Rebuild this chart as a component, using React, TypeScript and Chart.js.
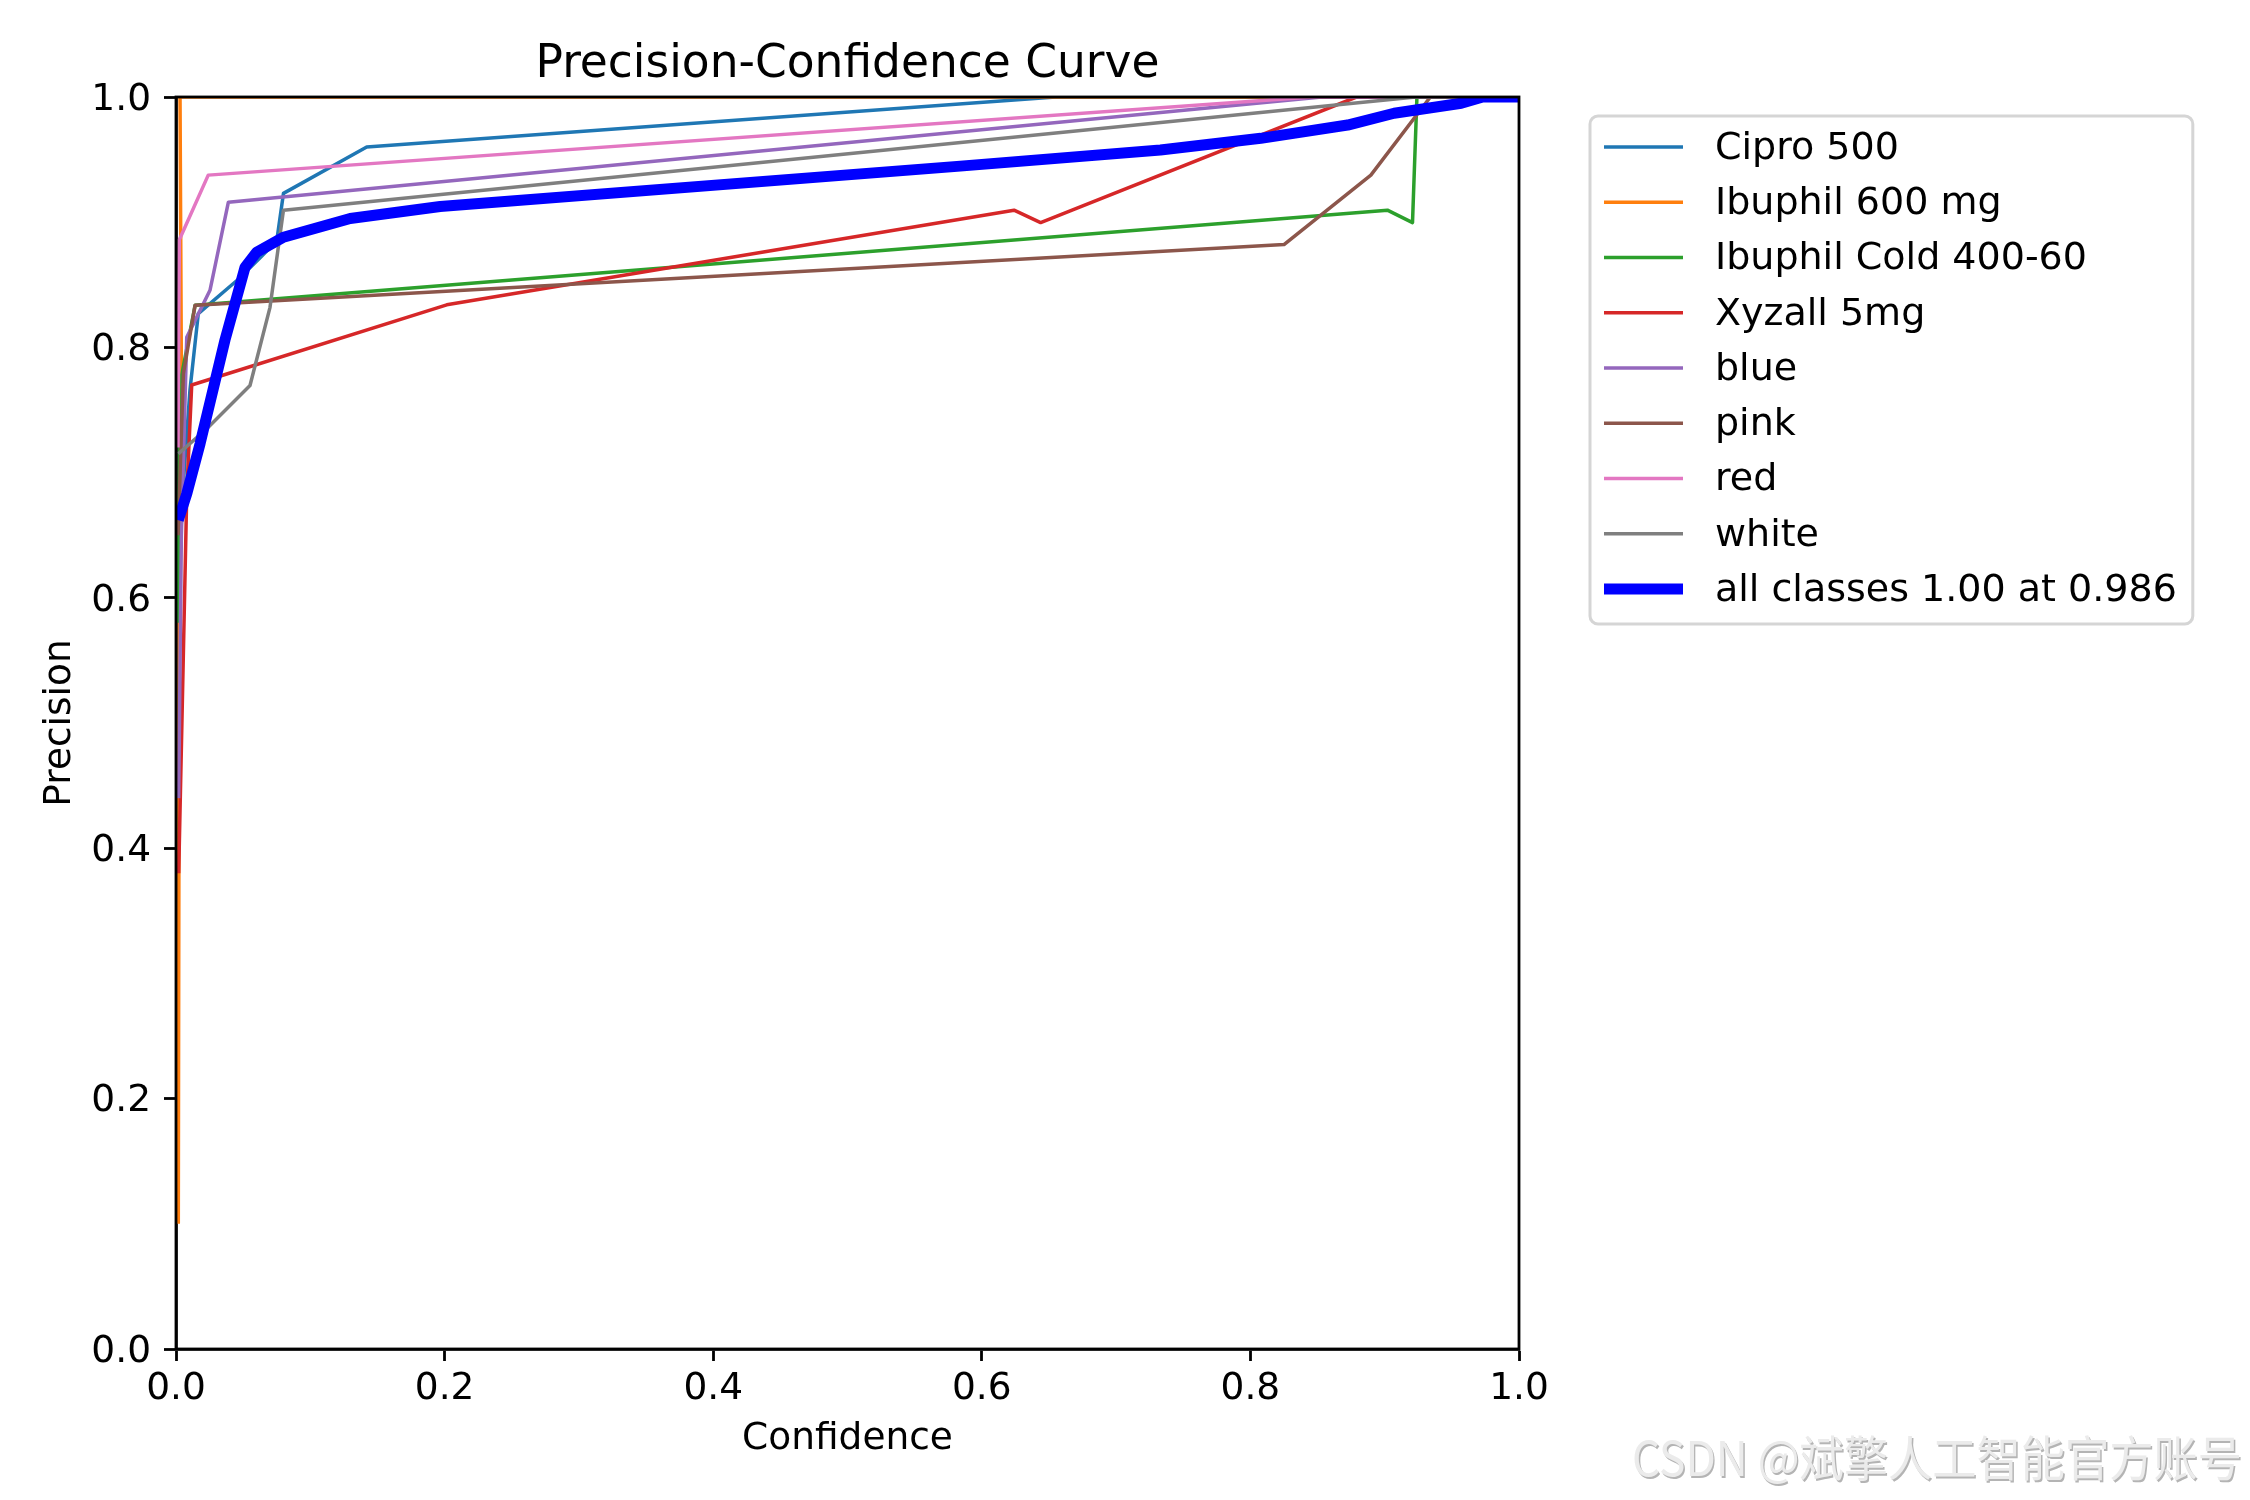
import React, { useEffect, useRef } from "react";
import { Chart, registerables } from "chart.js";

Chart.register(...registerables);

// ---------- data ----------
const chartTitle = "Precision-Confidence Curve";
const xAxisTitle = "Confidence";
const yAxisTitle = "Precision";
const watermark = "CSDN @斌擎人工智能官方账号";

const seriesNames = [
  "Cipro 500",
  "Ibuphil 600 mg",
  "Ibuphil Cold 400-60",
  "Xyzall 5mg",
  "blue",
  "pink",
  "red",
  "white",
];
const allClassesLabel = "all classes 1.00 at 0.986";
const seriesColors = ["#1f77b4", "#ff7f0e", "#2ca02c", "#d62728", "#9467bd", "#8c564b", "#e377c2", "#7f7f7f"];
const allClassesColor = "#0000ff";

const xTickValues = [0, 0.2, 0.4, 0.6, 0.8, 1.0];
const yTickValues = [0, 0.2, 0.4, 0.6, 0.8, 1.0];

const ciproConf = [0.002, 0.006, 0.0104, 0.0166, 0.046, 0.063, 0.075, 0.08, 0.142, 0.655, 1.0];
const ciproPrec = [0.62, 0.7, 0.766, 0.827, 0.854, 0.872, 0.885, 0.923, 0.96, 1.0, 1.0];

const ibu600Conf = [0.0017, 0.0025, 0.004, 0.003, 1.0];
const ibu600Prec = [0.1, 0.6, 0.78, 1.0, 1.0];

const ibuColdConf = [0.0015, 0.003, 0.0142, 0.902, 0.9207, 0.924, 1.0];
const ibuColdPrec = [0.58, 0.771, 0.8336, 0.9096, 0.8997, 1.0, 1.0];

const xyzallConf = [0.002, 0.004, 0.008, 0.0117, 0.2016, 0.624, 0.6438, 0.879, 1.0];
const xyzallPrec = [0.38, 0.48, 0.683, 0.77, 0.834, 0.9096, 0.8997, 1.0, 1.0];

const blueConf = [0.002, 0.004, 0.008, 0.0253, 0.039, 0.853, 1.0];
const bluePrec = [0.44, 0.65, 0.808, 0.8456, 0.916, 1.0, 1.0];

const pinkConf = [0.0015, 0.0055, 0.0142, 0.825, 0.8897, 0.934, 1.0];
const pinkPrec = [0.65, 0.779, 0.8336, 0.8821, 0.9376, 1.0, 1.0];

const redConf = [0.0015, 0.0025, 0.024, 0.846, 1.0];
const redPrec = [0.72, 0.886, 0.9376, 1.0, 1.0];

const whiteConf = [0.0017, 0.0229, 0.0551, 0.07, 0.08, 0.923, 1.0];
const whitePrec = [0.715, 0.735, 0.7696, 0.832, 0.9096, 1.0, 1.0];

const allConf = [0.0017, 0.008, 0.0179, 0.0365, 0.0514, 0.06, 0.08, 0.1297, 0.1967, 0.584, 0.733, 0.8077, 0.8724, 0.907, 0.957, 0.973, 1.0];
const allPrec = [0.662, 0.683, 0.723, 0.806, 0.864, 0.876, 0.888, 0.903, 0.9126, 0.9448, 0.9576, 0.967, 0.9776, 0.987, 0.995, 1.0, 1.0];

const seriesConf = [ciproConf, ibu600Conf, ibuColdConf, xyzallConf, blueConf, pinkConf, redConf, whiteConf];
const seriesPrec = [ciproPrec, ibu600Prec, ibuColdPrec, xyzallPrec, bluePrec, pinkPrec, redPrec, whitePrec];

// ---------- style ----------
const FONT = "DejaVu Sans";
const BASE = 37.5;
const LEGEND_FONT = 38;
const THIN = 3.5;
const THICK = 11;

const toPoints = (xs: number[], ys: number[]) => xs.map((x, i) => ({ x, y: ys[i] }));

const decorPlugin = {
  id: "decor",
  afterDatasetsDraw(chart: any) {
    const { ctx, chartArea: a } = chart;
    ctx.save();
    ctx.strokeStyle = "#000";
    ctx.lineWidth = 2.8;
    ctx.strokeRect(a.left, a.top, a.right - a.left, a.bottom - a.top);
    ctx.restore();
  },
  afterDraw(chart: any) {
    const { ctx, chartArea: a } = chart;
    ctx.save();
    // title
    ctx.fillStyle = "#000";
    ctx.font = `45.5px "${FONT}"`;
    ctx.textAlign = "center";
    ctx.textBaseline = "alphabetic";
    ctx.fillText(chartTitle, (a.left + a.right) / 2, 77);

    // legend
    const labels = [...seriesNames, allClassesLabel];
    const colors = [...seriesColors, allClassesColor];
    ctx.font = `${LEGEND_FONT}px "${FONT}"`;
    const textX = 1715;
    let maxW = 0;
    labels.forEach((l) => (maxW = Math.max(maxW, ctx.measureText(l).width)));
    const bx = 1590;
    const by = 116;
    const bw = textX + maxW + 16 - bx;
    const bh = 624 - by;
    const r = 8;
    ctx.beginPath();
    ctx.moveTo(bx + r, by);
    ctx.lineTo(bx + bw - r, by);
    ctx.arcTo(bx + bw, by, bx + bw, by + r, r);
    ctx.lineTo(bx + bw, by + bh - r);
    ctx.arcTo(bx + bw, by + bh, bx + bw - r, by + bh, r);
    ctx.lineTo(bx + r, by + bh);
    ctx.arcTo(bx, by + bh, bx, by + bh - r, r);
    ctx.lineTo(bx, by + r);
    ctx.arcTo(bx, by, bx + r, by, r);
    ctx.closePath();
    ctx.fillStyle = "rgba(255,255,255,0.8)";
    ctx.fill();
    ctx.strokeStyle = "#d5d5d5";
    ctx.lineWidth = 3;
    ctx.stroke();

    labels.forEach((l, i) => {
      const y = 147 + i * 55.25;
      ctx.beginPath();
      ctx.moveTo(1604, y);
      ctx.lineTo(1683, y);
      ctx.strokeStyle = colors[i];
      ctx.lineWidth = i === labels.length - 1 ? THICK : THIN;
      ctx.lineCap = "butt";
      ctx.stroke();
      ctx.fillStyle = "#000";
      ctx.textAlign = "left";
      ctx.textBaseline = "middle";
      ctx.fillText(l, textX, y + 2);
    });

    // watermark
    ctx.font = `48px "Noto Sans CJK SC"`;
    ctx.textAlign = "left";
    ctx.textBaseline = "alphabetic";
    const w = ctx.measureText(watermark).width;
    const targetW = 610;
    const sx = targetW / w;
    ctx.save();
    ctx.translate(1632, 1476);
    ctx.scale(sx, 1);
    ctx.fillStyle = "#b4b4b4";
    ctx.fillText(watermark, 1.5, 1.5);
    ctx.fillStyle = "#ebebeb";
    ctx.fillText(watermark, 0, 0);
    ctx.restore();
    ctx.restore();
  },
};

export default function App() {
  const ref = useRef<HTMLCanvasElement | null>(null);

  useEffect(() => {
    if (!ref.current) return;
    const datasets: any[] = seriesNames.map((name, i) => ({
      label: name,
      data: toPoints(seriesConf[i], seriesPrec[i]),
      borderColor: seriesColors[i],
      backgroundColor: seriesColors[i],
      borderWidth: THIN,
      pointRadius: 0,
      pointHoverRadius: 0,
      tension: 0,
      fill: false,
      clip: 0,
      borderJoinStyle: "round",
      order: 20 - i,
    }));
    datasets.push({
      label: allClassesLabel,
      data: toPoints(allConf, allPrec),
      borderColor: allClassesColor,
      backgroundColor: allClassesColor,
      borderWidth: THICK,
      pointRadius: 0,
      pointHoverRadius: 0,
      tension: 0,
      fill: false,
      clip: 0,
      borderJoinStyle: "round",
      order: 0,
    });

    const tickFont = { family: FONT, size: BASE };
    const chart = new Chart(ref.current, {
      type: "line",
      data: { datasets },
      plugins: [decorPlugin],
      options: {
        animation: false,
        responsive: false,
        maintainAspectRatio: false,
        devicePixelRatio: 1,
        events: [],
        layout: { padding: { top: 97, right: 731, bottom: 0, left: 0 } },
        plugins: {
          legend: { display: false },
          title: { display: false },
          tooltip: { enabled: false },
        },
        scales: {
          x: {
            type: "linear",
            min: 0,
            max: 1,
            afterBuildTicks: (s: any) => {
              s.ticks = xTickValues.map((v) => ({ value: v }));
            },
            afterFit: (s: any) => {
              s.height = 151;
              s.paddingLeft = 0;
              s.paddingRight = 0;
              s.paddingTop = 0;
              s.paddingBottom = 0;
            },
            ticks: {
              color: "#000",
              font: tickFont,
              padding: 6,
              maxRotation: 0,
              autoSkip: false,
              callback: (v: any) => Number(v).toFixed(1),
            },
            grid: {
              display: true,
              drawOnChartArea: false,
              drawTicks: true,
              tickLength: 12,
              tickColor: "#000",
              tickWidth: 2.8,
            },
            border: { display: true, color: "#000", width: 2.8 },
            title: {
              display: true,
              text: xAxisTitle,
              color: "#000",
              font: { family: FONT, size: BASE },
              padding: { top: 0, bottom: 38 },
            },
          },
          y: {
            type: "linear",
            min: 0,
            max: 1,
            afterBuildTicks: (s: any) => {
              s.ticks = yTickValues.map((v) => ({ value: v }));
            },
            afterFit: (s: any) => {
              s.width = 176;
              s.paddingLeft = 0;
              s.paddingRight = 0;
              s.paddingTop = 0;
              s.paddingBottom = 0;
            },
            ticks: {
              color: "#000",
              font: tickFont,
              padding: 13,
              labelOffset: 3,
              autoSkip: false,
              callback: (v: any) => Number(v).toFixed(1),
            },
            grid: {
              display: true,
              drawOnChartArea: false,
              drawTicks: true,
              tickLength: 12,
              tickColor: "#000",
              tickWidth: 2.8,
            },
            border: { display: true, color: "#000", width: 2.8 },
            title: {
              display: true,
              text: yAxisTitle,
              color: "#000",
              font: { family: FONT, size: BASE },
              padding: { top: 38, bottom: 0 },
            },
          },
        },
      } as any,
    });
    return () => chart.destroy();
  }, []);

  return (
    <div style={{ position: "absolute", left: 0, top: 0, width: 2250, height: 1500, background: "#fff" }}>
      <canvas ref={ref} width={2250} height={1500} style={{ display: "block", width: 2250, height: 1500 }} />
    </div>
  );
}
